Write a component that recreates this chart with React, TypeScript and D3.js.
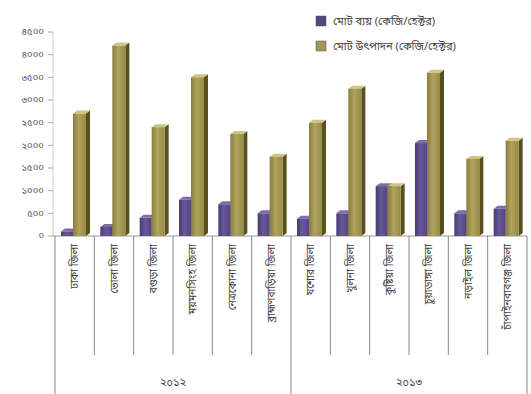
import React from "react";
import * as d3 from "d3";

const years = ["২০১২", "২০১৩"];
const districts = [
  "ঢাকা জিলা",
  "ভোলা জিলা",
  "বগুড়া জিলা",
  "ময়মনসিংহ জিলা",
  "নেত্রকোনা জিলা",
  "ব্রাহ্মণবাড়িয়া জিলা",
  "যশোর জিলা",
  "খুলনা জিলা",
  "কুষ্টিয়া জিলা",
  "চুয়াডাঙ্গা জিলা",
  "নড়াইল জিলা",
  "চাঁপাইনবাবগঞ্জ জিলা",
];
const costValues = [100, 200, 400, 800, 700, 500, 380, 500, 1100, 2050, 500, 600];
const productionValues = [2700, 4200, 2400, 3500, 2250, 1750, 2500, 3250, 1100, 3600, 1700, 2100];
const yTicks = [0, 500, 1000, 1500, 2000, 2500, 3000, 3500, 4000, 4500];
const seriesNames = ["মোট ব্যয় (কেজি/হেক্টর)", "মোট উৎপাদন (কেজি/হেক্টর)"];

const bnDigits = "০১২৩৪৫৬৭৮৯";
const toBn = (n: number) => String(n).replace(/\d/g, (d) => bnDigits[+d]);

const W = 531;
const H = 394;
const left = 55;
const right = 527;
const base = 236;
const FONT = "'Noto Sans Bengali','Noto Sans','DejaVu Sans',sans-serif";

export default function App() {
  const x = d3.scaleBand<number>().domain(d3.range(districts.length)).range([left, right]).paddingInner(0);
  const y = d3.scaleLinear().domain([0, 4500]).range([base, 32]);
  const bw = x.bandwidth();
  const dx = 4;
  const dy = -3;

  const bar = (i: number, v: number, off: number, barW: number, s: number) => {
    const x0 = (x(i) as number) + off;
    const yt = y(v);
    const cols = s === 0
      ? { front: "url(#gPurple)", side: "#33285a", top: "#7e6ea8" }
      : { front: "url(#gOlive)", side: "#58501e", top: "#cfc486" };
    return (
      <g key={`b${s}-${i}`}>
        <polygon
          points={`${x0 + barW},${yt} ${x0 + barW + dx},${yt + dy} ${x0 + barW + dx},${base + dy} ${x0 + barW},${base}`}
          fill={cols.side}
        />
        <polygon
          points={`${x0},${yt} ${x0 + barW},${yt} ${x0 + barW + dx},${yt + dy} ${x0 + dx},${yt + dy}`}
          fill={cols.top}
        />
        <rect x={x0} y={yt} width={barW} height={base - yt} fill={cols.front} />
      </g>
    );
  };

  const groupBounds = [left, x(6) as number, right];

  return (
    <svg
      width={W}
      height={H}
      style={{ position: "absolute", left: 0, top: 0, background: "#fff" }}
      fontFamily={FONT}
    >
      <defs>
        <linearGradient id="gOlive" x1="0" x2="1" y1="0" y2="0">
          <stop offset="0" stopColor="#8a7d3c" />
          <stop offset="0.45" stopColor="#b0a35e" />
          <stop offset="1" stopColor="#978a46" />
        </linearGradient>
        <linearGradient id="gPurple" x1="0" x2="1" y1="0" y2="0">
          <stop offset="0" stopColor="#4a3b72" />
          <stop offset="0.45" stopColor="#67589a" />
          <stop offset="1" stopColor="#54457f" />
        </linearGradient>
      </defs>

      {/* y axis */}
      <line x1={left - 2} x2={left - 2} y1={y(4500)} y2={base} stroke="#ccc" />
      {yTicks.map((t) => (
        <g key={t} transform={`translate(0,${y(t)})`}>
          <line x1={left - 7} x2={left - 2} stroke="#aaa" />
          <text x={left - 11} dy="0.35em" textAnchor="end" fontSize={9.5} fill="#555">
            {toBn(t)}
          </text>
        </g>
      ))}

      {/* floor line */}
      <line x1={left - 2} x2={right} y1={base} y2={base} stroke="#999" />

      {/* bars */}
      {districts.map((_, i) => bar(i, costValues[i], 6, 12, 0))}
      {districts.map((_, i) => bar(i, productionValues[i], 18, 13, 1))}

      {/* category dividers */}
      {d3.range(districts.length + 1).map((k) => {
        const xx = k === districts.length ? right : (x(k) as number);
        const isGroup = k === 0 || k === 6 || k === districts.length;
        return (
          <line key={`d${k}`} x1={xx} x2={xx} y1={base} y2={isGroup ? H : 355} stroke="#888" strokeWidth={1} />
        );
      })}

      {/* category labels */}
      {districts.map((d, i) => {
        const cx = (x(i) as number) + bw / 2;
        return (
          <text
            key={`l${i}`}
            transform={`translate(${cx},${base + 8}) rotate(-90)`}
            textAnchor="end"
            dy="0.35em"
            fontSize={10.5}
            fill="#444"
          >
            {d}
          </text>
        );
      })}

      {/* year labels */}
      {years.map((yr, g) => (
        <text
          key={yr}
          x={(groupBounds[g] + groupBounds[g + 1]) / 2}
          y={386}
          textAnchor="middle"
          fontSize={11}
          fill="#444"
        >
          {yr}
        </text>
      ))}

      {/* legend */}
      {seriesNames.map((n, s) => (
        <g key={n} transform={`translate(316,${21 + s * 25})`}>
          <rect x={0} y={-5} width={10} height={10} fill={s === 0 ? "#54457f" : "#a39756"} stroke="#555" strokeWidth={0.5} />
          <text x={17} dy="0.35em" fontSize={11} fill="#444">
            {n}
          </text>
        </g>
      ))}
    </svg>
  );
}
